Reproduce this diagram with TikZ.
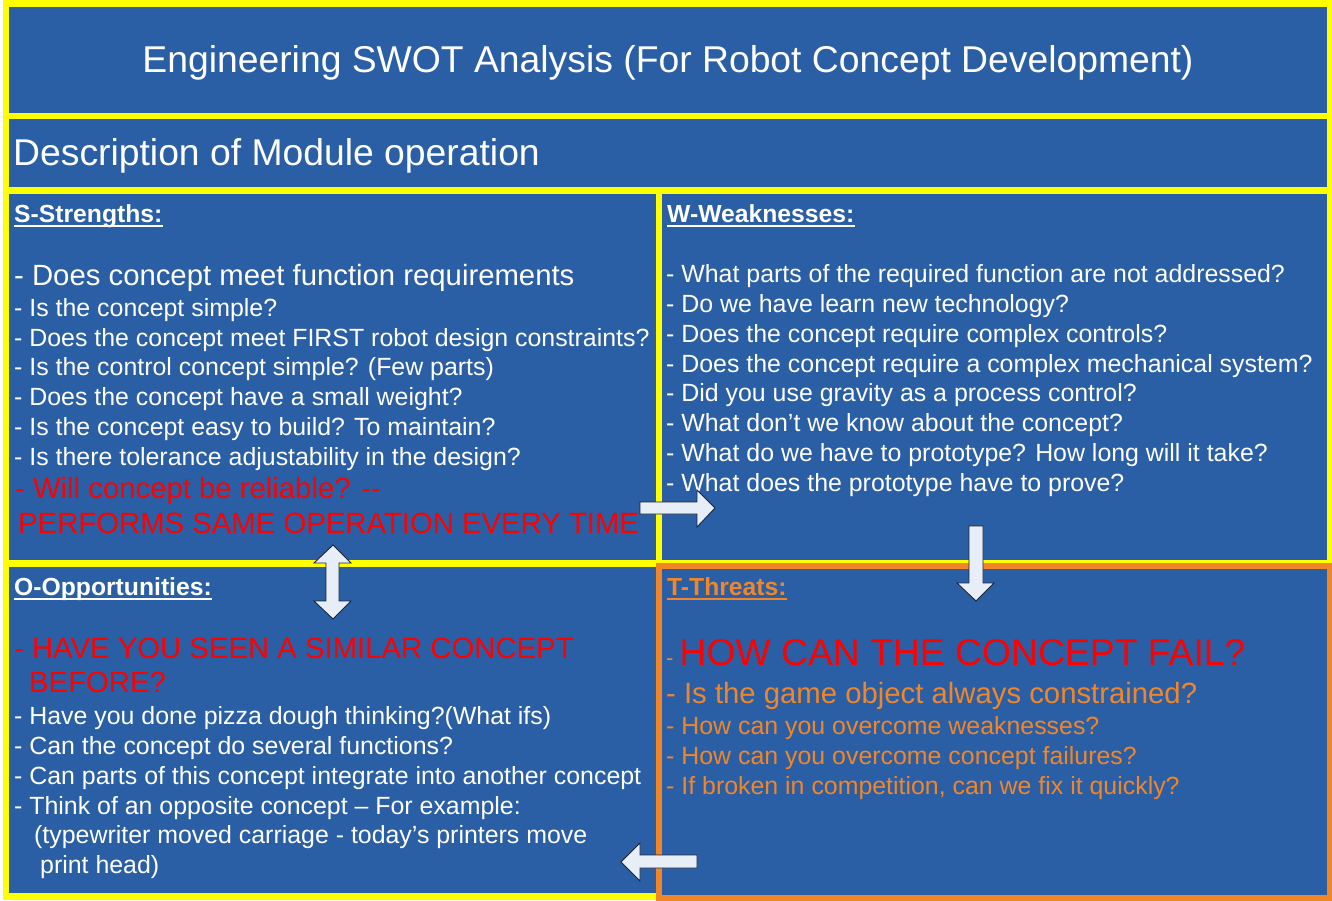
\documentclass[tikz,border=0pt]{standalone}
\usepackage{fontspec}
\setmainfont{Liberation Sans}

\definecolor{azulswot}{RGB}{42,95,166}
\definecolor{amarillo}{RGB}{255,255,0}
\definecolor{naranja}{RGB}{240,134,40}
\definecolor{rojo}{RGB}{255,0,0}
\definecolor{flechafondo}{RGB}{232,238,248}
\definecolor{flechaborde}{RGB}{28,36,52}

\tikzset{
    linea/.style={anchor=base west, inner sep=0pt, text=white, font=\fontsize{24.9}{29}\selectfont},
    grande/.style={linea, font=\fontsize{29.3}{34}\selectfont},
    cabecera/.style={linea, font=\fontsize{24.7}{29}\selectfont\bfseries},
    flecha/.style={fill=flechafondo, draw=flechaborde, line width=0.9pt, line join=miter}
}

\begin{document}
\begin{tikzpicture}[x=1pt, y=-1pt]
                \useasboundingbox (0,0) rectangle (1332,900);

                % Marco amarillo
                \fill[white] (0,0) rectangle (1332,900);
                \fill[amarillo] (3,0) rectangle (1332,900);

                % Cajas azules
                \fill[azulswot] (9,7) rectangle (1327,113);
                \fill[azulswot] (9,119) rectangle (1327,187);
                \fill[azulswot] (9,194) rectangle (656,560);
                \fill[azulswot] (662,194) rectangle (1327,560);
                \fill[azulswot] (9,567) rectangle (656,893);
                \draw[naranja, line width=6pt, fill=azulswot] (659,565.5) rectangle (1329.5,897.5);

                % Titulo y descripcion
                \node[linea, anchor=base, font=\fontsize{37.3}{44}\selectfont] (titulo) at (668,72) {Engineering SWOT Analysis (For Robot Concept Development)};
                \node[linea, font=\fontsize{37.3}{44}\selectfont] (desc) at (13,165) {Description of Module operation};

                % Fortalezas
                \node[cabecera] (cabS) at (14,222) {S-Strengths:};
                \draw[white, line width=1.8pt] ([yshift=-4pt]cabS.base west) -- ([yshift=-4pt]cabS.base east);
                \node[grande] (s1) at (14,285) {- Does concept meet function requirements};
                \node[linea] (s2) at (14,316) {- Is the concept simple?};
                \node[linea] (s3) at (14,346) {- Does the concept meet FIRST robot design constraints?};
                \node[linea] (s4) at (14,375.5) {- Is the control concept simple? (Few parts)};
                \node[linea] (s5) at (14,405) {- Does the concept have a small weight?};
                \node[linea] (s6) at (14,435) {- Is the concept easy to build? To maintain?};
                \node[linea] (s7) at (14,465) {- Is there tolerance adjustability in the design?};
                \node[grande, text=rojo] (s8) at (15,498) {- Will concept be reliable? -{}-};
                \node[grande, text=rojo] (s9) at (18,533) {PERFORMS SAME OPERATION EVERY TIME};

                % Debilidades
                \node[cabecera] (cabW) at (667,222) {W-Weaknesses:};
                \draw[white, line width=1.8pt] ([yshift=-4pt]cabW.base west) -- ([yshift=-4pt]cabW.base east);
                \node[linea] (w1) at (666,282) {- What parts of the required function are not addressed?};
                \node[linea] (w2) at (666,312) {- Do we have learn new technology?};
                \node[linea] (w3) at (666,342) {- Does the concept require complex controls?};
                \node[linea] (w4) at (666,372) {- Does the concept require a complex mechanical system?};
                \node[linea] (w5) at (666,401) {- Did you use gravity as a process control?};
                \node[linea] (w6) at (666,431) {- What don’t we know about the concept?};
                \node[linea] (w7) at (666,461) {- What do we have to prototype? How long will it take?};
                \node[linea] (w8) at (666,491) {- What does the prototype have to prove?};

                % Oportunidades
                \node[cabecera] (cabO) at (14,595) {O-Opportunities:};
                \draw[white, line width=1.8pt] ([yshift=-4pt]cabO.base west) -- ([yshift=-4pt]cabO.base east);
                \node[grande, text=rojo] (o1) at (14,658) {- HAVE YOU SEEN A SIMILAR CONCEPT};
                \node[grande, text=rojo] (o2) at (29,692) {BEFORE?};
                \node[linea] (o3) at (14,724) {- Have you done pizza dough thinking?(What ifs)};
                \node[linea] (o4) at (14,754) {- Can the concept do several functions?};
                \node[linea] (o5) at (14,784) {- Can parts of this concept integrate into another concept};
                \node[linea] (o6) at (14,814) {- Think of an opposite concept – For example:};
                \node[linea] (o7) at (34,843) {(typewriter moved carriage - today’s printers move};
                \node[linea] (o8) at (40,873) {print head)};

                % Amenazas
                \node[cabecera, text=naranja] (cabT) at (667,595) {T-Threats:};
                \draw[naranja, line width=1.8pt] ([yshift=-4pt]cabT.base west) -- ([yshift=-4pt]cabT.base east);
                \node[linea, text=naranja, font=\fontsize{22}{26}\selectfont] (t1) at (666,665) {-\ {\fontsize{37.3}{44}\selectfont\color{rojo}HOW CAN THE CONCEPT FAIL?}};
                \node[grande, text=naranja] (t2) at (666,703) {- Is the game object always constrained?};
                \node[linea, text=naranja] (t3) at (666,734) {- How can you overcome weaknesses?};
                \node[linea, text=naranja] (t4) at (666,764) {- How can you overcome concept failures?};
                \node[linea, text=naranja] (t5) at (666,794) {- If broken in competition, can we fix it quickly?};

                % Flechas de bloque
                \draw[flecha] (640,502) -- (697,502) -- (697,490) -- (715,508) -- (697,527) -- (697,514) -- (640,514) -- cycle;
                \draw[flecha] (333,545) -- (351,563) -- (339,563) -- (339,601) -- (351,601) -- (333,619) -- (314,601) -- (326,601) -- (326,563) -- (314,563) -- cycle;
                \draw[flecha] (969,526) -- (983,526) -- (983,583) -- (994,583) -- (976,601) -- (957,583) -- (969,583) -- cycle;
                \draw[flecha] (697,855) -- (640,855) -- (640,843) -- (621,862) -- (640,881) -- (640,868) -- (697,868) -- cycle;
            \end{tikzpicture}
\end{document}
